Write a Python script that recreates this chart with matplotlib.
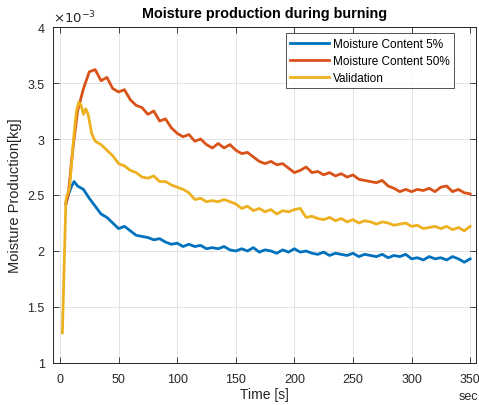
import matplotlib
matplotlib.use("Agg")
import matplotlib.pyplot as plt

plt.rcParams['font.family'] = ['Liberation Sans', 'DejaVu Sans']

# time axes [s]
t_model = [5, 7, 10, 12, 15, 20, 25, 30, 35, 40, 45, 50, 55, 60, 65, 70, 75, 80, 85, 90,
           95, 100, 105, 110, 115, 120, 125, 130, 135, 140, 145, 150, 155, 160, 165, 170,
           175, 180, 185, 190, 195, 200, 205, 210, 215, 220, 225, 230, 235, 240, 245, 250,
           255, 260, 265, 270, 275, 280, 285, 290, 295, 300, 305, 310, 315, 320, 325, 330,
           335, 340, 345, 350]

# moisture production in units of 1e-3 kg
mc5 = [2.42, 2.50, 2.58, 2.62, 2.58, 2.55, 2.47, 2.40, 2.33, 2.30, 2.25, 2.20, 2.22, 2.18,
       2.14, 2.13, 2.12, 2.10, 2.11, 2.08, 2.06, 2.07, 2.04, 2.06, 2.04, 2.05, 2.02, 2.03,
       2.02, 2.04, 2.01, 2.00, 2.02, 2.00, 2.03, 1.99, 2.01, 2.00, 1.98, 2.01, 1.99, 2.02,
       1.99, 2.00, 1.98, 1.97, 1.99, 1.96, 1.98, 1.97, 1.96, 1.98, 1.95, 1.97, 1.96, 1.95,
       1.97, 1.94, 1.96, 1.95, 1.97, 1.93, 1.94, 1.92, 1.95, 1.93, 1.94, 1.92, 1.95, 1.93,
       1.90, 1.93]

mc50 = [2.42, 2.50, 2.82, 3.00, 3.25, 3.45, 3.60, 3.62, 3.52, 3.55, 3.45, 3.42, 3.44, 3.35,
        3.30, 3.28, 3.22, 3.25, 3.16, 3.18, 3.10, 3.05, 3.02, 3.04, 2.98, 3.00, 2.95, 2.92,
        2.96, 2.92, 2.95, 2.90, 2.87, 2.88, 2.84, 2.80, 2.78, 2.80, 2.77, 2.78, 2.74, 2.70,
        2.72, 2.75, 2.70, 2.71, 2.68, 2.70, 2.67, 2.69, 2.66, 2.68, 2.64, 2.63, 2.62, 2.61,
        2.63, 2.58, 2.56, 2.53, 2.55, 2.53, 2.55, 2.54, 2.56, 2.53, 2.57, 2.58, 2.53, 2.55,
        2.52, 2.51]

t_val = [2, 5, 6, 8, 10, 12, 14, 16, 18, 20, 22, 24, 27, 30, 35, 40, 45, 50, 55, 60, 65, 70,
         75, 80, 85, 90, 95, 100, 105, 110, 115, 120, 125, 130, 135, 140, 145, 150, 155, 160,
         165, 170, 175, 180, 185, 190, 195, 200, 205, 210, 215, 220, 225, 230, 235, 240, 245,
         250, 255, 260, 265, 270, 275, 280, 285, 290, 295, 300, 305, 310, 315, 320, 325, 330,
         335, 340, 345, 350]
validation = [1.27, 2.45, 2.50, 2.55, 2.80, 3.05, 3.25, 3.33, 3.30, 3.22, 3.27, 3.22, 3.05,
              2.98, 2.95, 2.90, 2.85, 2.78, 2.76, 2.72, 2.70, 2.66, 2.65, 2.67, 2.62, 2.62,
              2.59, 2.57, 2.55, 2.52, 2.46, 2.47, 2.44, 2.45, 2.44, 2.46, 2.44, 2.42, 2.38,
              2.40, 2.36, 2.38, 2.35, 2.37, 2.33, 2.36, 2.35, 2.37, 2.38, 2.30, 2.31, 2.29,
              2.28, 2.30, 2.27, 2.29, 2.26, 2.28, 2.25, 2.27, 2.26, 2.24, 2.26, 2.25, 2.23,
              2.24, 2.25, 2.22, 2.23, 2.20, 2.21, 2.22, 2.20, 2.22, 2.19, 2.21, 2.18, 2.22]

labels = ["Moisture Content 5%", "Moisture Content 50%", "Validation"]
colors = ["#0072BD", "#D95319", "#EDB120"]
x_ticks = [0, 50, 100, 150, 200, 250, 300, 350]
y_ticks = [1, 1.5, 2, 2.5, 3, 3.5, 4]
y_ticklabels = ["1", "1.5", "2", "2.5", "3", "3.5", "4"]

fig = plt.figure(figsize=(4.79, 4.06), dpi=100)
ax = fig.add_axes([53/479, 1-364/406, (476-53)/479, (364-28)/406])

ax.plot(t_model, mc5, color=colors[0], lw=2, label=labels[0])
ax.plot(t_model, mc50, color=colors[1], lw=2, label=labels[1])
ax.plot(t_val, validation, color=colors[2], lw=2, label=labels[2])

ax.set_xlim(-6, 355)
ax.set_ylim(1, 4)
ax.set_xticks(x_ticks)
ax.set_yticks(y_ticks)
ax.set_yticklabels(y_ticklabels)
ax.grid(True, color="#dedede", lw=0.6)
ax.set_axisbelow(True)
dark = "#262626"
for s in ax.spines.values():
    s.set_color(dark)
    s.set_linewidth(0.7)
ax.tick_params(direction='in', top=True, right=True, colors=dark, labelsize=9,
               length=4, width=0.6)
ax.tick_params(axis='x', pad=7)
ax.tick_params(axis='y', pad=6)
ax.set_title("Moisture production during burning", fontsize=10.4, fontweight='bold',
             color='black', pad=7)
ax.set_xlabel("Time [s]", fontsize=10, color=dark, labelpad=2)
ax.set_ylabel("Moisture Production[kg]", fontsize=10.5, color=dark, labelpad=4)
ax.text(0.0, 1.005, r"$\times10^{-3}$", transform=ax.transAxes, fontsize=9.5,
        color=dark, ha='left', va='bottom')
fig.text(459/479, 1-397/406, "sec", fontsize=9, color=dark, ha='left', va='center')

leg = ax.legend(loc='upper right', fontsize=8.5, frameon=True, fancybox=False,
                edgecolor=dark, handlelength=3.3, handletextpad=0.3, borderpad=0.4,
                labelspacing=0.42, borderaxespad=0, bbox_to_anchor=(0.949, 0.982))
leg.get_frame().set_linewidth(0.7)

fig.savefig("out.png", dpi=100)
